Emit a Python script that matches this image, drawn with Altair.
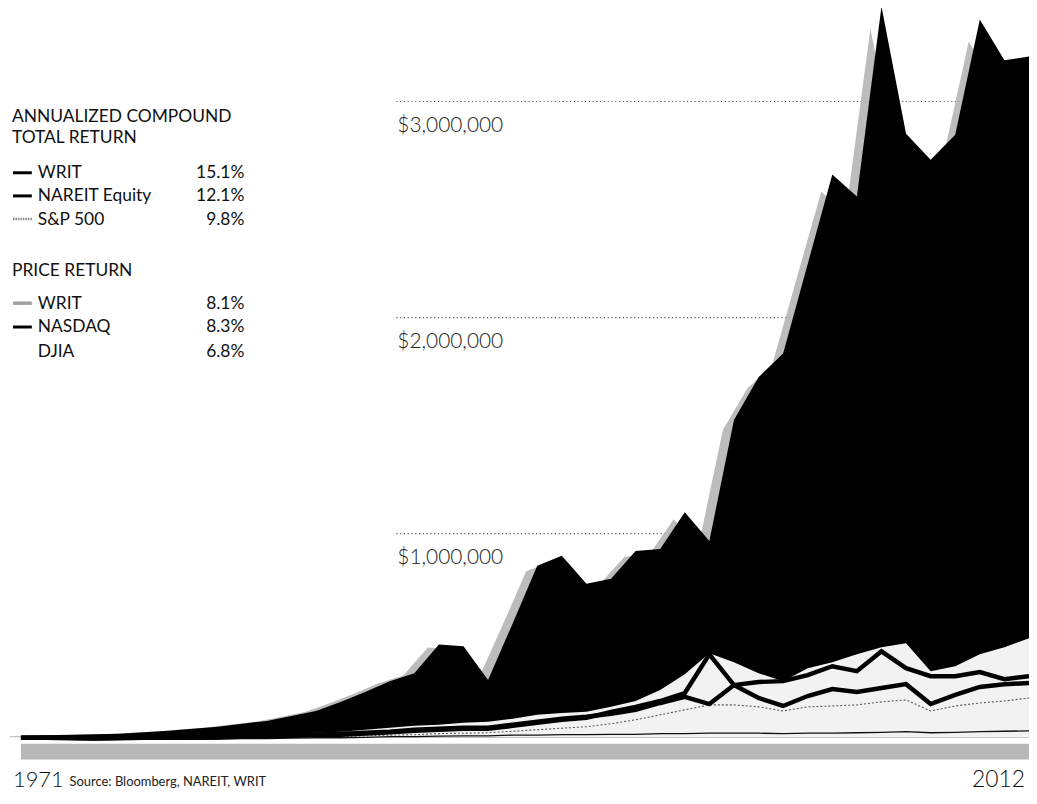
import altair as alt
import pandas as pd

# ---------------- data ----------------
years = list(range(1971, 2013))

writ_total = [64000, 67000, 69000, 71000, 74000, 80000, 87000, 97000, 106000, 120000,
              133000, 156000, 179000, 221000, 267000, 317000, 354000, 487000, 478000, 322000,
              584000, 851000, 897000, 768000, 791000, 920000, 929000, 1099000, 966000, 1526000,
              1724000, 1834000, 2248000, 2662000, 2561000, 3440000, 2851000, 2731000, 2846000, 3380000,
              3191000, 3209000]

sp500_total = [60000, 60000, 60000, 60000, 62000, 62000, 62000, 64000, 64000, 69000,
               69000, 74000, 78000, 83000, 92000, 101000, 110000, 115000, 124000, 129000,
               143000, 161000, 170000, 175000, 198000, 225000, 276000, 349000, 446000, 405000,
               354000, 317000, 377000, 405000, 441000, 474000, 492000, 363000, 386000, 441000,
               474000, 515000]

nareit_equity = [55000, 55000, 55000, 53000, 55000, 57000, 57000, 60000, 60000, 62000,
                 64000, 67000, 69000, 74000, 78000, 83000, 92000, 97000, 101000, 101000,
                 115000, 129000, 143000, 152000, 166000, 184000, 216000, 244000, 211000, 299000,
                 313000, 317000, 345000, 386000, 363000, 455000, 377000, 340000, 340000, 359000,
                 326000, 340000]

nasdaq_price = [55000, 55000, 53000, 51000, 53000, 55000, 55000, 57000, 60000, 62000,
                62000, 64000, 69000, 69000, 74000, 80000, 87000, 92000, 97000, 97000,
                110000, 124000, 138000, 147000, 175000, 198000, 225000, 262000, 441000, 299000,
                239000, 202000, 248000, 280000, 267000, 285000, 303000, 211000, 253000, 290000,
                303000, 308000]

writ_price = [55000, 55000, 55000, 55000, 55000, 57000, 57000, 57000, 57000, 57000,
              60000, 60000, 60000, 60000, 64000, 67000, 69000, 74000, 76000, 78000,
              85000, 92000, 99000, 106000, 120000, 138000, 161000, 184000, 207000, 207000,
              198000, 179000, 198000, 202000, 207000, 221000, 230000, 179000, 202000, 216000,
              225000, 239000]

djia_price = [48000, 48000, 48000, 46000, 48000, 48000, 48000, 48000, 48000, 51000,
              51000, 53000, 55000, 55000, 57000, 60000, 60000, 62000, 64000, 64000,
              67000, 67000, 69000, 69000, 71000, 71000, 74000, 74000, 76000, 76000,
              76000, 74000, 76000, 76000, 78000, 80000, 83000, 78000, 80000, 83000,
              85000, 87000]

grid_values = [1000000, 2000000, 3000000]
grid_labels = ["$1,000,000", "$2,000,000", "$3,000,000"]

legend_headers = ["ANNUALIZED COMPOUND", "TOTAL RETURN", "PRICE RETURN"]
legend_labels = ["WRIT", "NAREIT Equity", "S&P 500", "WRIT", "NASDAQ", "DJIA"]
legend_values = ["15.1%", "12.1%", "9.8%", "8.1%", "8.3%", "6.8%"]

start_label = "1971"
end_label = "2012"
source_text = "Source: Bloomberg, NAREIT, WRIT"

# ---------------- layout ----------------
PAD_L, PAD_T = 13, 4
W, H = 1015, 784
FONT = "Lato"
base_value = 57000
Y_TOP, Y_BOT = 3402300, -202300

def px(page_x):
    return page_x - 8 - PAD_L

df = pd.DataFrame({
    "year": years,
    "writ_total": writ_total,
    "sp500_total": sp500_total,
    "nareit": nareit_equity,
    "nasdaq": nasdaq_price,
    "writ_price": writ_price,
    "djia": djia_price,
})

xs = alt.Scale(domain=[1971, 2012], nice=False, zero=False)
ys = alt.Scale(domain=[Y_BOT, Y_TOP], nice=False, zero=False)

# page-pixel row -> value on the y scale (for annotation text)
def pix2val(expr):
    return f"{Y_TOP} - ({expr} - {8 + PAD_T}) * {(Y_TOP - Y_BOT) / H}"

base = alt.Chart(df)
X = alt.X("year:Q", scale=xs, axis=None)

def Yq(field):
    return alt.Y(field, type="quantitative", scale=ys, axis=None)

# gridlines (behind everything)
grid_df = pd.DataFrame({"value": grid_values, "label": grid_labels})
grid = alt.Chart(grid_df).mark_rule(color="#555", strokeWidth=1.1, strokeDash=[1.2, 2.6]).encode(
    y=Yq("value"), x=alt.value(px(399)), x2=alt.value(W))
grid_text = alt.Chart(grid_df).mark_text(align="left", baseline="alphabetic", dy=31,
                                         font=FONT, fontSize=21, fontWeight=300, color="#222").encode(
    y=Yq("value"), x=alt.value(px(400)), text="label:N")

# shadow of the WRIT total-return area
shadow = base.transform_calculate(sx="datum.year - 0.45", sy="datum.writ_total * 0.97").mark_area(
    color="#b0b0b0", opacity=0.85).encode(
    x=alt.X("sx:Q", scale=xs, axis=None), y=Yq("sy"), y2=alt.datum(base_value))

writ_area = base.mark_area(color="#000000").encode(
    x=X, y=Yq("writ_total"), y2=alt.datum(base_value))

sp_area = base.mark_area(color="#f2f2f2").encode(
    x=X, y=Yq("sp500_total"), y2=alt.datum(base_value))

writ_price_line = base.mark_line(color="#555", strokeWidth=1.1, strokeDash=[2, 2]).encode(
    x=X, y=Yq("writ_price"))

djia_line = base.mark_line(color="#111", strokeWidth=1.3).encode(x=X, y=Yq("djia"))

nasdaq_line = base.mark_line(color="#000", strokeWidth=4.5, strokeJoin="miter").encode(
    x=X, y=Yq("nasdaq"))

nareit_line = base.mark_line(color="#000", strokeWidth=4.5, strokeJoin="miter").encode(
    x=X, y=Yq("nareit"))

band_df = pd.DataFrame({"x0": [years[0]], "x1": [years[-1]], "b0": [27600], "b1": [-46000]})
band = alt.Chart(band_df).mark_rect(color="#b8b8b8").encode(
    x=alt.X("x0:Q", scale=xs, axis=None), x2="x1:Q", y=Yq("b0"), y2="b1:Q")

# legend block (page pixel rows)
hdr_df = pd.DataFrame({"t": legend_headers, "ypos": [120, 141.7, 275]})
headers = alt.Chart(hdr_df).transform_calculate(yv=pix2val("datum.ypos")).mark_text(
    align="left", baseline="alphabetic", font=FONT, fontSize=17.5, color="#111").encode(
    x=alt.value(px(12)), y=Yq("yv"), text="t:N")

row_y = [176.7, 200, 223.3, 308, 332, 357]
leg_df = pd.DataFrame({"label": legend_labels, "val": legend_values, "ypos": row_y,
                       "sw": ["black", "black", "dot", "gray", "black", "none"]})
leg = alt.Chart(leg_df).transform_calculate(yv=pix2val("datum.ypos"))
leg_text = leg.mark_text(align="left", baseline="alphabetic", font=FONT,
                         fontSize=17.5, color="#111").encode(
    x=alt.value(px(38)), y=Yq("yv"), text="label:N")
leg_val = leg.mark_text(align="right", baseline="alphabetic", font=FONT,
                        fontSize=17.5, color="#111").encode(
    x=alt.value(px(246)), y=Yq("yv"), text="val:N")
leg_sw = alt.Chart(leg_df).transform_calculate(yv=pix2val("(datum.ypos - 5.5)"))
sw_black = leg_sw.transform_filter("datum.sw == 'black'").mark_rule(color="#000", strokeWidth=3).encode(
    x=alt.value(px(13)), x2=alt.value(px(32)), y=Yq("yv"))
sw_dot = leg_sw.transform_filter("datum.sw == 'dot'").mark_rule(color="#888", strokeWidth=2.5,
                                                                 strokeDash=[1.5, 1]).encode(
    x=alt.value(px(13)), x2=alt.value(px(32)), y=Yq("yv"))
sw_gray = leg_sw.transform_filter("datum.sw == 'gray'").mark_rule(color="#a0a0a0", strokeWidth=3.5).encode(
    x=alt.value(px(13)), x2=alt.value(px(32)), y=Yq("yv"))

# bottom labels
yr_df = pd.DataFrame({"t": [start_label], "year": [1971]})
yr_start = alt.Chart(yr_df).mark_text(align="left", baseline="alphabetic", font=FONT, fontSize=22,
                                      fontWeight=300, color="#111", dx=-8).encode(
    x=alt.X("year:Q", scale=xs, axis=None), y=alt.value(790 - 8 - PAD_T), text="t:N")
yr_end_df = pd.DataFrame({"t": [end_label], "year": [2012]})
yr_end = alt.Chart(yr_end_df).mark_text(align="right", baseline="alphabetic", font=FONT, fontSize=23,
                                        fontWeight=300, color="#111", dx=-4).encode(
    x=alt.X("year:Q", scale=xs, axis=None), y=alt.value(790 - 8 - PAD_T), text="t:N")
src = alt.Chart(pd.DataFrame({"t": [source_text]})).mark_text(
    align="left", baseline="alphabetic", font=FONT, fontSize=13, color="#222").encode(
    x=alt.value(px(70)), y=alt.value(789 - 8 - PAD_T), text="t:N")

chart = alt.layer(
    grid, grid_text, shadow, writ_area, sp_area, writ_price_line, djia_line,
    nasdaq_line, nareit_line, band,
    headers, leg_text, leg_val, sw_black, sw_dot, sw_gray,
    yr_start, yr_end, src,
).properties(
    width=W, height=H,
    padding={"left": PAD_L, "top": PAD_T, "right": 0, "bottom": 0},
    autosize=alt.AutoSizeParams(type="none"),
    background="white",
).configure_view(stroke=None)

chart.save("out.html", embed_options={"renderer": "svg", "actions": False})
